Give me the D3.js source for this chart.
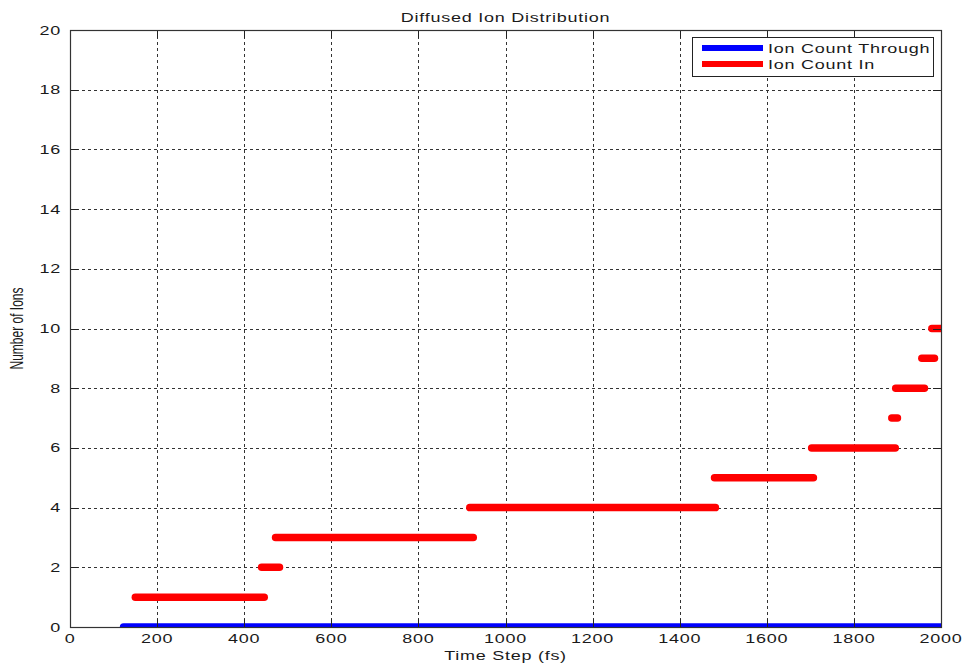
<!DOCTYPE html>
<html>
<head>
<meta charset="utf-8">
<script src="https://cdn.jsdelivr.net/npm/d3@7"></script>
<style>
  html, body { margin: 0; padding: 0; background: #fff; }
  svg { display: block; }
  text { font-family: "Liberation Sans", Arial, sans-serif; fill: #1a1a1a; }
</style>
</head>
<body>
<svg id="chart" width="966" height="664"></svg>
<script>
// Tick values
const timeTicks = [0, 200, 400, 600, 800, 1000, 1200, 1400, 1600, 1800, 2000];
const countTicks = [0, 2, 4, 6, 8, 10, 12, 14, 16, 18, 20];

// Ion Count In: runs of time steps at which the count holds each level
const inLevel = [1, 2, 3, 4, 5, 6, 7, 8, 9, 10];
const inStart = [150, 440, 472, 918, 1480, 1703, 1887, 1896, 1956, 1979];
const inEnd   = [446, 481, 926, 1482, 1707, 1895, 1900, 1962, 1985, 2010];

// Ion Count Through: stays at zero
const throughLevel = [0];
const throughStart = [123];
const throughEnd   = [2010];

const W = 966, H = 664;
const margin = { left: 70, right: 25, top: 30, bottom: 37 };
const innerW = W - margin.left - margin.right;
const innerH = H - margin.top - margin.bottom;
const SX = 1.5; // wide glyph aspect of the labels

const svg = d3.select("#chart");
const x = d3.scaleLinear().domain([0, 2000]).range([0, innerW]);
const y = d3.scaleLinear().domain([0, 20]).range([innerH, 0]);

const g = svg.append("g").attr("transform", `translate(${margin.left},${margin.top})`);

svg.append("defs").append("clipPath").attr("id", "plotClip")
  .append("rect").attr("width", innerW).attr("height", innerH);

// dotted grid
const grid = g.append("g").attr("stroke", "#333").attr("stroke-width", 1)
  .attr("stroke-dasharray", "3,3");
grid.selectAll("line.vx").data(timeTicks.slice(1, -1)).join("line")
  .attr("x1", d => Math.round(x(d)) + 0.5).attr("x2", d => Math.round(x(d)) + 0.5)
  .attr("y1", 0).attr("y2", innerH);
grid.selectAll("line.hy").data(countTicks.slice(1)).join("line")
  .attr("x1", 0).attr("x2", innerW)
  .attr("y1", d => Math.round(y(d)) + 0.5).attr("y2", d => Math.round(y(d)) + 0.5);

// data runs
function runs(levels, starts, ends) {
  return levels.map((v, i) => ({ v, a: starts[i], b: ends[i] }));
}
const plot = g.append("g").attr("clip-path", "url(#plotClip)");
plot.selectAll("line.through").data(runs(throughLevel, throughStart, throughEnd)).join("line")
  .attr("x1", d => x(d.a)).attr("x2", d => x(d.b))
  .attr("y1", d => y(d.v)).attr("y2", d => y(d.v))
  .attr("stroke", "#0000ff").attr("stroke-width", 7.5).attr("stroke-linecap", "round");
plot.selectAll("line.in").data(runs(inLevel, inStart, inEnd)).join("line")
  .attr("x1", d => x(d.a)).attr("x2", d => x(d.b))
  .attr("y1", d => y(d.v)).attr("y2", d => y(d.v))
  .attr("stroke", "#ff0000").attr("stroke-width", 7.5).attr("stroke-linecap", "round");

// axes with inward ticks on all four sides
const tickLen = 8;
const axisG = g.append("g").attr("stroke", "#222").attr("stroke-width", 1);
timeTicks.forEach(t => {
  const px = Math.round(x(t)) + 0.5;
  axisG.append("line").attr("x1", px).attr("x2", px).attr("y1", innerH).attr("y2", innerH - tickLen);
  axisG.append("line").attr("x1", px).attr("x2", px).attr("y1", 0).attr("y2", tickLen);
});
countTicks.forEach(t => {
  const py = Math.round(y(t)) + 0.5;
  axisG.append("line").attr("x1", 0).attr("x2", tickLen).attr("y1", py).attr("y2", py);
  axisG.append("line").attr("x1", innerW).attr("x2", innerW - tickLen).attr("y1", py).attr("y2", py);
});
g.append("rect").attr("x", 0.5).attr("y", 0.5).attr("width", innerW).attr("height", innerH)
  .attr("fill", "none").attr("stroke", "#333").attr("stroke-width", 1.2);

// tick labels
function wideText(parent, px, py, str, anchor, size) {
  parent.append("text")
    .attr("transform", `translate(${px},${py}) scale(${SX},1)`)
    .attr("text-anchor", anchor)
    .attr("font-size", size)
    .attr("letter-spacing", 0.5)
    .text(str);
}
timeTicks.forEach(t => wideText(g, x(t), innerH + 16, String(t), "middle", 12));
countTicks.forEach(t => wideText(g, -9, y(t) + 4.5, String(t), "end", 12));

// title and axis labels
wideText(g, innerW / 2, -8, "Diffused Ion Distribution", "middle", 12);
wideText(g, x(1000), innerH + 33, "Time Step (fs)", "middle", 12);
svg.append("text")
  .attr("transform", `translate(23,${margin.top + y(10)}) scale(${SX},1) rotate(-90)`)
  .attr("text-anchor", "middle").attr("font-size", 12)
  .text("Number of Ions");

// legend
const legend = svg.append("g").attr("transform", "translate(692,37)");
legend.append("rect").attr("x", 0.5).attr("y", 0.5).attr("width", 241).attr("height", 39)
  .attr("fill", "#fff").attr("stroke", "#222").attr("stroke-width", 1);
const legendItems = [
  { name: "Ion Count Through", color: "#0000ff" },
  { name: "Ion Count In", color: "#ff0000" }
];
legendItems.forEach((it, i) => {
  const ly = 11 + i * 16;
  legend.append("line").attr("x1", 10).attr("x2", 71).attr("y1", ly).attr("y2", ly)
    .attr("stroke", it.color).attr("stroke-width", 6);
  wideText(legend, 76, ly + 4.5, it.name, "start", 12);
});
</script>
</body>
</html>
